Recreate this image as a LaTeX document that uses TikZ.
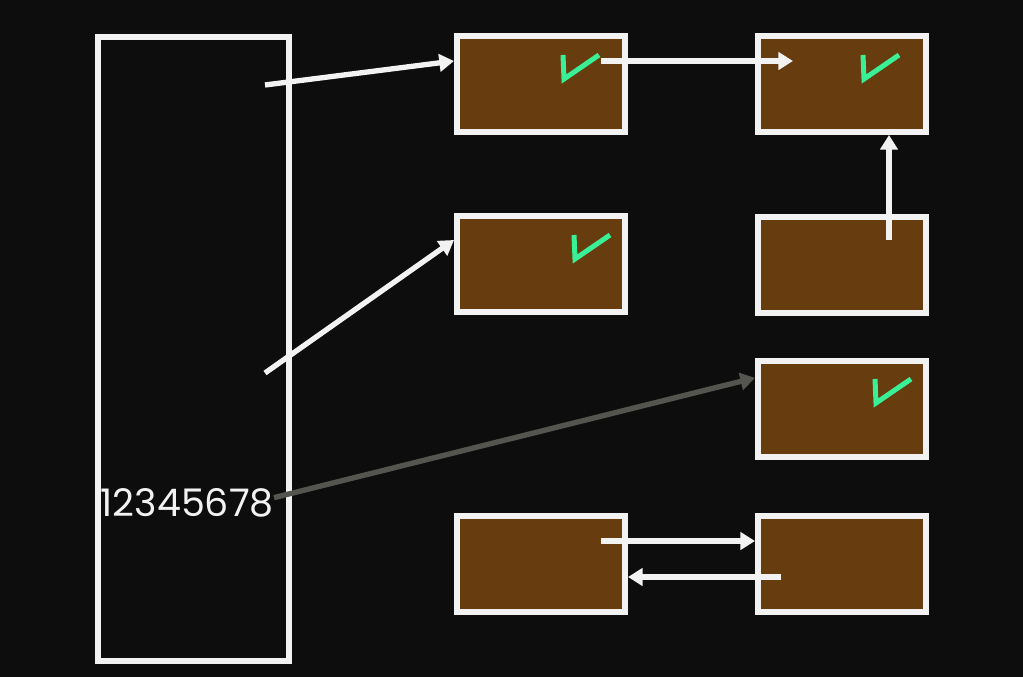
\documentclass[tikz,border=0pt]{standalone}
\usepackage{fontspec}
\setsansfont{Poppins}
\usetikzlibrary{arrows.meta, positioning}
\definecolor{bgdark}{RGB}{13, 13, 13}
\definecolor{cellbrown}{RGB}{103, 60, 14}
\definecolor{edgewhite}{RGB}{242, 242, 242}
\definecolor{tickgreen}{RGB}{58, 240, 150}
\definecolor{ghostgray}{RGB}{85, 85, 80}

\tikzset{
  cell/.style={draw=edgewhite, fill=cellbrown, line width=4.5pt, minimum width=126pt, minimum height=72pt, inner sep=0pt},
  link/.style={draw=edgewhite, line width=4pt, -{Triangle[length=11pt, width=13pt]}},
  tick/.style={draw=tickgreen, line width=3.75pt},
}

\begin{document}
\begin{tikzpicture}[x=0.75pt, y=-0.75pt]
  \fill[bgdark] (0, 0) rectangle (1023, 677);
  \useasboundingbox (0, 0) rectangle (1023, 677);

  % Table column
  \node[draw=edgewhite, line width=4.5pt, minimum width=143.25pt, minimum height=467.25pt, inner sep=0pt] (table) at (193, 349) {};
  \node[font=\sffamily\fontsize{28.5}{28.5}\selectfont, text=edgewhite, anchor=east, inner sep=0pt] (keys) at (274, 503) {12345678};

  % Cells
  \node[cell] (a) at (541, 84) {};
  \node[cell] (b) at (842, 84) {};
  \node[cell] (c) at (541, 264) {};
  \node[cell] (d) at (842, 265) {};
  \node[cell] (e) at (842, 408.5) {};
  \node[cell] (f) at (541, 564) {};
  \node[cell] (g) at (842, 564) {};

  % Marks
  \foreach \x/\y in {563/55, 863/55, 574/235, 875/379} {
    \draw[tick] (\x, \y) -- (\x+1, \y+24) -- (\x+36, \y);
  }

  % Links
  \coordinate (s1) at (265, 85);
  \coordinate (s2) at (265, 373);
  \draw[link] (s1) -- ([yshift=17.25pt]a.west);
  \draw[link] ([xshift=45pt, yshift=17.25pt]a.center) -- ([xshift=-36.75pt, yshift=17.25pt]b.center);
  \draw[link] ([xshift=35.25pt, yshift=18.75pt]d.center) -- ([xshift=35.25pt]b.south);
  \draw[link] (s2) -- ([yshift=18pt]c.west);
  \draw[link, draw=ghostgray, fill=ghostgray] ([yshift=4pt]keys.east) -- ([yshift=23pt]e.west);
  \draw[link] ([xshift=45pt, yshift=17.25pt]f.center) -- ([yshift=17.25pt]g.west);
  \draw[link] ([xshift=-45.75pt, yshift=-9.75pt]g.center) -- ([yshift=-9.75pt]f.east);
\end{tikzpicture}
\end{document}
